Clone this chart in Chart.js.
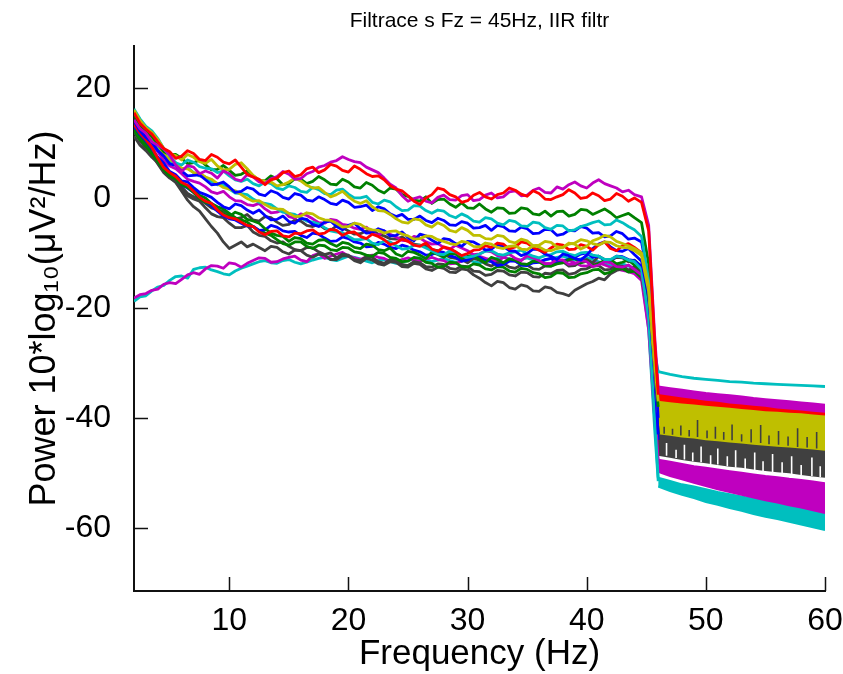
<!DOCTYPE html>
<html>
<head>
<meta charset="utf-8">
<script src="https://cdn.jsdelivr.net/npm/chart.js@4.4.1/dist/chart.umd.min.js"></script>
<style>
  html, body { margin: 0; padding: 0; background: #fff; }
  #wrap { width: 843px; height: 674px; }
</style>
</head>
<body>
<div id="wrap"><canvas id="c" width="843" height="674"></canvas></div>
<script>
// ---------- text ----------
const TITLE = "Filtrace s Fz = 45Hz, IIR filtr";
const X_TITLE = "Frequency (Hz)";
const Y_TITLE = "Power 10*log\u2081\u2080(\u03BCV\u00B2/Hz)";
const xTicks = [10, 20, 30, 40, 50, 60];
const yTicks = [-60, -40, -20, 0, 20];

// ---------- frequency grid (Hz) ----------
const freqPass = [2,2.5,3,3.5,4,4.5,5,5.5,6,6.5,
 7,7.5,8,8.5,9,9.5,10,10.5,11,11.5,
 12,12.5,13,13.5,14,14.5,15,15.5,16,16.5,
 17,17.5,18,18.5,19,19.5,20,20.5,21,21.5,
 22,22.5,23,23.5,24,24.5,25,25.5,26,26.5,
 27,27.5,28,28.5,29,29.5,30,30.5,31,31.5,
 32,32.5,33,33.5,34,34.5,35,35.5,36,36.5,
 37,37.5,38,38.5,39,39.5,40,40.5,41,41.5,
 42,42.5,43,43.5,
 44,44.6,45.2,45.7,46];
const freqStop = [46,47,48,49,50,51,52,53,54,55,56,57,58,59,60];

// ---------- channel spectra (dB) on freqPass ----------
const redHigh = [15.5,13.6, 12.5,11.6, 10.2,9.0, 8.4,7.2, 7.6,8.6,
 8.1,7.0, 6.8,7.9, 7.4,6.5, 6.2,6.9, 5.6,4.3,
 3.8,3.4, 2.4,3.3, 3.6,4.6, 4.9,3.9, 4.2,5.3,
 5.6,4.6, 5.1,6.1, 5.8,5.0, 4.7,5.8, 5.2,4.4,
 3.9,4.0, 3.3,2.2, 1.6,1.3, 0.4,-0.6, -1.2,0.0,
 0.6,1.8, 1.5,0.6, 0.2,-0.8, -0.5,0.5, 1.0,0.2,
 -0.2,0.6, 0.9,1.8, 1.4,0.7, 0.3,1.3, 0.8,-0.2,
 -0.3,0.2, 0.6,1.5, 0.9,-0.1, 0.1,0.9, 0.4,-0.5,
 -0.2,0.8, 0.3,-0.6,
 0.0, -0.8,-6,-26,-35.8];
const magentaHigh = [14.2,12.6, 11.8,10.2, 9.6,8.9, 7.8,6.0, 4.8,5.9,
 5.6,4.4, 4.9,4.5, 3.6,4.9, 4.4,3.4, 3.1,4.2,
 3.8,2.9, 2.6,3.5, 3.9,4.8, 4.3,3.4, 3.5,4.4,
 4.8,5.6, 5.9,6.5, 6.8,7.5, 7.0,6.6, 6.4,5.6,
 5.1,4.6, 3.6,2.5, 1.8,0.4, -0.6,-0.1, 0.2,-0.6,
 -0.9,0.1, 0.5,-0.3, -0.4,0.4, 0.6,-0.5, -0.3,0.5,
 0.9,0.0, 0.2,1.1, 1.3,0.4, 0.5,1.4, 1.8,1.0,
 0.9,2.0, 1.6,2.4, 2.9,2.2, 1.8,2.7, 3.3,2.6,
 2.2,1.8, 1.1,1.4,
 0.6, 0.2,-5,-25,-34.3];
const greenHigh = [15.0,13.2, 12.1,11.2, 9.8,8.4, 7.9,7.9, 7.2,6.2,
 6.4,6.9, 6.0,5.1, 5.2,5.9, 5.0,4.1, 4.3,4.9,
 4.0,3.2, 3.1,4.0, 3.5,2.4, 2.6,3.5, 3.4,2.6,
 3.0,3.9, 3.3,2.5, 2.4,3.4, 2.9,2.0, 1.8,2.8,
 2.3,1.4, 0.9,1.8, 1.6,0.6, 0.3,-0.4, -0.6,0.2,
 -1.0,-0.3, -0.2,-1.1, -1.7,-0.9, -1.8,-1.9, -1.1,-2.0,
 -2.6,-1.8, -1.9,-2.8, -2.7,-1.8, -2.0,-2.9, -3.1,-2.4,
 -3.3,-2.5, -2.4,-3.3, -3.0,-2.1, -2.2,-3.0, -2.5,-2.0,
 -2.7,-3.6, -3.2,-2.8,
 -3.6, -4.5,-12,-30,-38];
const yellowHigh = [16.0,14.1, 12.8,11.9, 10.6,9.0, 8.0,7.7, 6.9,7.9,
 7.4,6.6, 6.3,7.0, 5.8,5.1, 5.2,6.1, 6.4,5.3,
 4.1,3.3, 3.0,2.9, 2.2,2.4, 2.9,3.6, 3.1,2.3,
 1.8,1.9, 1.0,0.2, 0.6,1.2, 0.2,-0.6, -1.0,-0.5,
 -1.6,-2.3, -2.4,-3.0, -3.8,-4.4, -4.6,-3.8, -4.0,-4.9,
 -5.3,-4.5, -5.0,-5.9, -6.2,-5.4, -5.9,-6.8, -6.8,-7.4,
 -7.5,-6.8, -7.0,-7.9, -8.2,-7.5, -7.8,-8.7, -8.6,-7.9,
 -8.1,-8.9, -9.0,-8.2, -8.4,-9.3, -8.8,-7.8, -7.4,-6.8,
 -7.1,-7.9, -8.3,-8.7,
 -9.2, -10,-16,-30,-37];
const cyanHigh = [16.2,14.4, 13.0,12.2, 10.8,9.0, 7.6,6.4, 6.0,6.9,
 6.5,5.7, 5.4,5.3, 4.6,4.9, 4.0,3.3, 3.0,3.4,
 2.6,2.2, 2.9,2.6, 1.8,1.5, 2.2,1.9, 1.2,1.0,
 1.9,1.5, 0.8,0.6, 1.4,1.6, 0.7,0.0, 0.0,0.3,
 -0.8,-1.1, -0.4,-0.7, -1.6,-2.3, -2.2,-1.4, -1.5,-2.3,
 -2.8,-2.2, -2.4,-3.2, -3.6,-2.9, -3.4,-4.2, -4.4,-3.6,
 -3.8,-4.6, -4.9,-4.1, -4.3,-5.1, -5.2,-4.4, -4.6,-5.4,
 -5.7,-5.0, -5.1,-6.0, -5.8,-5.2, -4.9,-4.5, -4.2,-4.9,
 -4.8,-4.0, -4.5,-5.2,
 -5.8, -7,-15,-28,-31.6];
const blueHigh = [14.0,12.2, 11.0,10.1, 8.6,7.6, 6.2,5.9, 4.9,4.0,
 4.1,4.2, 3.3,2.4, 2.5,2.9, 2.0,1.0, 1.2,1.9,
 1.6,0.7, 0.4,1.3, 0.9,0.1, -0.2,0.8, 0.5,-0.4,
 -0.6,0.2, -0.3,-1.0, -1.2,-0.4, -0.8,-1.7, -1.6,-1.3,
 -2.3,-1.6, -2.0,-2.9, -3.4,-3.0, -3.9,-3.9, -3.3,-4.1,
 -4.5,-3.7, -4.1,-4.9, -5.0,-4.3, -4.6,-5.5, -5.4,-5.0,
 -5.9,-5.0, -5.2,-6.0, -6.1,-5.3, -5.6,-6.5, -6.4,-5.7,
 -5.8,-6.8, -6.6,-5.9, -6.0,-5.2, -5.5,-6.4, -6.3,-7.1,
 -6.9,-6.1, -6.5,-7.5,
 -7.3, -8,-15,-29,-40];
const blueMid = [13.2,11.6, 10.4,9.0, 7.4,6.3, 4.8,4.2, 3.1,2.9,
 1.9,1.0, 0.6,0.1, -0.8,-1.6, -2.0,-1.1, -1.4,-2.2,
 -2.8,-2.2, -3.2,-4.0, -3.9,-3.3, -4.3,-4.6, -3.7,-3.9,
 -4.8,-5.2, -4.4,-4.2, -5.2,-5.8, -5.0,-4.6, -5.6,-6.4,
 -6.3,-5.6, -6.0,-6.9, -6.8,-6.2, -7.2,-7.8, -6.6,-6.9,
 -7.7,-8.3, -7.4,-7.6, -8.3,-8.8, -7.9,-8.0, -8.6,-9.5,
 -9.3,-8.5, -8.8,-9.6, -9.7,-10.5, -10.1,-9.3, -9.4,-10.2,
 -10.6,-11.2, -10.2,-10.5, -11.0,-11.3, -10.4,-9.2, -8.4,-8.0,
 -8.9,-9.6, -9.7,-9.2,
 -10.3, -11.5,-18,-32,-43];
const redMid = [13.4,11.8, 10.6,9.2, 7.2,5.5, 4.6,3.9, 2.8,2.3,
 1.2,0.1, -0.6,-1.0, -2.2,-3.1, -3.6,-3.8, -4.4,-5.0,
 -5.2,-6.2, -6.7,-6.1, -6.0,-6.9, -7.1,-6.4, -6.5,-6.0,
 -5.8,-6.6, -6.4,-5.7, -5.9,-6.8, -6.3,-6.2, -7.0,-7.4,
 -6.6,-7.0, -7.6,-8.5, -8.2,-7.5, -7.9,-8.6, -8.8,-8.2,
 -9.3,-9.7, -8.9,-9.2, -9.8,-10.5, -10.1,-9.5, -9.4,-8.7,
 -9.0,-8.2, -8.4,-9.3, -8.9,-8.0, -8.2,-9.0, -9.5,-9.9,
 -9.1,-8.4, -8.6,-9.4, -9.3,-8.5, -8.8,-9.5, -8.5,-8.0,
 -9.2,-9.6, -8.7,-8.3,
 -9.0, -10,-16,-30,-36.6];
const greenMid = [12.4,11.0, 9.8,8.4, 6.8,5.2, 4.2,3.5, 2.4,1.9,
 1.0,-0.1, -0.8,-1.1, -2.0,-2.9, -3.4,-2.6, -3.0,-3.9,
 -4.2,-4.6, -5.6,-6.4, -6.8,-7.0, -7.9,-7.2, -7.4,-8.2,
 -8.4,-7.7, -7.6,-8.3, -8.8,-8.1, -8.3,-9.0, -9.2,-8.4,
 -8.6,-9.4, -9.6,-9.1, -10.2,-10.6, -9.7,-9.9, -10.4,-11.0,
 -9.9,-10.3, -10.8,-10.1, -10.2,-11.0, -10.6,-10.4, -11.2,-11.8,
 -10.8,-11.2, -11.8,-11.1, -11.3,-12.0, -12.1,-11.5, -11.6,-12.3,
 -12.4,-12.0, -11.8,-11.2, -11.0,-11.8, -11.5,-12.3, -11.9,-11.4,
 -11.2,-12.0, -11.7,-11.3,
 -12.2, -13,-19,-33,-43];
const grayHigh = [12.8,11.0, 9.6,8.2, 6.6,5.0, 4.0,3.3, 2.0,0.8,
 0.2,-0.2, -1.0,-1.8, -2.2,-2.4, -3.0,-3.8, -3.6,-3.0,
 -4.0,-4.2, -3.4,-3.6, -4.4,-5.0, -4.8,-4.0, -4.2,-5.0,
 -5.2,-4.8, -5.6,-5.9, -5.1,-5.4, -6.0,-6.6, -6.5,-6.0,
 -5.9,-6.6, -6.9,-7.4, -7.5,-7.1, -7.8,-8.4, -8.6,-8.8,
 -9.4,-9.6, -10.2,-10.8, -11.0,-11.2, -11.8,-11.0, -11.3,-12.0,
 -12.4,-11.8, -11.9,-12.6, -12.8,-12.2, -12.2,-12.9, -13.0,-12.4,
 -12.4,-11.8, -11.6,-12.4, -12.3,-11.5, -11.2,-11.8, -10.6,-11.2,
 -11.4,-10.8, -10.9,-11.6,
 -11.3, -12.5,-19,-33,-43];
const grayLow = [11.2,9.6, 8.6,7.4, 6.4,4.8, 3.8,2.8, 1.2,-0.4,
 -1.6,-2.4, -3.8,-5.2, -6.4,-8.0, -9.2,-8.6, -8.0,-8.9,
 -8.4,-9.0, -9.6,-8.8, -9.0,-9.8, -10.2,-9.5, -9.6,-10.4,
 -10.8,-10.2, -10.4,-11.2, -11.2,-10.5, -10.6,-11.4, -11.8,-11.0,
 -11.3,-12.0, -12.2,-11.6, -11.7,-12.5, -12.6,-11.9, -12.1,-12.9,
 -13.2,-12.6, -12.8,-13.5, -13.6,-12.9, -13.1,-14.0, -14.6,-15.4,
 -16.0,-15.2, -15.4,-16.3, -16.6,-15.8, -16.1,-16.9, -17.0,-16.2,
 -16.4,-17.2, -17.4,-17.8, -16.8,-16.2, -15.6,-15.2, -14.6,-14.9,
 -13.8,-13.2, -12.9,-13.4,
 -12.4, -13.5,-20,-34,-46];
const grayMid = [12.0,10.4, 9.0,7.8, 6.2,4.6, 3.6,2.9, 1.6,0.4,
 -0.2,-0.6, -1.8,-2.9, -3.4,-3.6, -4.6,-5.4, -5.4,-5.0,
 -6.2,-6.8, -7.0,-7.8, -8.2,-8.0, -8.8,-9.4, -9.6,-9.0,
 -9.1,-9.8, -10.3,-10.0, -10.9,-10.2, -10.4,-11.2, -11.4,-10.7,
 -10.8,-11.6, -11.9,-11.2, -11.4,-12.1, -12.3,-11.6, -11.8,-12.5,
 -12.6,-12.0, -12.1,-12.8, -13.0,-12.4, -12.5,-13.3, -13.4,-14.1,
 -13.9,-13.2, -13.3,-14.0, -14.2,-13.5, -13.6,-14.3, -14.4,-13.7,
 -13.8,-13.2, -13.1,-13.9, -13.7,-13.0, -12.9,-12.4, -12.3,-13.1,
 -13.0,-12.3, -12.4,-13.1,
 -12.8, -14,-21,-35,-44];
const magentaMid = [14.0,12.4, 11.2,9.6, 8.4,6.8, 5.8,5.3, 4.4,3.4,
 3.0,2.7, 2.0,1.1, 0.8,1.2, 0.2,-0.5, -0.6,-1.2,
 -1.4,-1.0, -2.0,-2.7, -2.6,-2.2, -3.4,-3.7, -2.9,-3.2,
 -3.8,-4.5, -4.6,-3.9, -4.1,-4.8, -5.0,-5.5, -5.7,-5.3,
 -6.4,-6.8, -6.0,-6.6, -7.1,-7.7, -7.8,-7.0, -7.3,-8.0,
 -8.4,-8.3, -9.0,-9.4, -8.6,-9.1, -9.6,-10.3, -10.2,-9.6,
 -9.8,-10.5, -10.6,-10.2, -11.0,-11.4, -10.5,-10.9, -11.4,-12.0,
 -11.9,-11.2, -11.3,-12.1, -12.0,-11.4, -11.6,-12.5, -12.2,-11.6,
 -11.8,-12.5, -12.6,-12.2,
 -13.0, -14,-22,-38,-47.6];
const greenLow = [12.2,10.6, 9.4,8.0, 6.6,5.1, 4.0,3.5, 2.6,2.2,
 1.4,0.5, 0.0,-1.0, -1.6,-2.0, -2.8,-3.6, -4.0,-4.4,
 -5.2,-5.9, -6.4,-6.8, -7.6,-8.3, -8.6,-8.0, -8.0,-8.8,
 -9.2,-8.6, -8.7,-9.4, -9.6,-9.0, -9.1,-9.8, -10.0,-10.4,
 -10.6,-9.9, -10.1,-10.8, -11.0,-11.6, -11.5,-10.8, -11.0,-11.7,
 -11.9,-12.6, -12.4,-11.7, -11.8,-12.5, -12.6,-12.0, -12.2,-12.9,
 -13.1,-12.5, -12.6,-13.3, -13.5,-12.8, -13.0,-13.6, -13.8,-14.5,
 -14.3,-13.6, -13.7,-14.5, -14.4,-13.8, -13.6,-13.1, -13.0,-13.8,
 -13.5,-12.8, -12.8,-13.5,
 -13.3, -14.5,-21,-35,-44];
const cyanMid = [15.2,13.8, 12.0,10.6, 9.2,7.8, 6.6,6.1, 5.2,5.5,
 4.6,4.0, 3.8,3.0, 2.4,2.5, 1.6,0.9, 0.8,0.6,
 -0.2,-0.8, -1.0,-1.2, -2.0,-2.6, -2.8,-3.0, -3.6,-4.2,
 -4.4,-4.7, -5.4,-6.0, -6.2,-6.3, -7.0,-7.6, -7.6,-7.4,
 -8.2,-8.5, -7.8,-8.0, -8.7,-9.3, -9.2,-8.6, -8.6,-9.1,
 -9.6,-10.2, -10.3,-9.7, -9.8,-10.5, -10.8,-10.6, -10.2,-9.7,
 -9.6,-10.2, -10.4,-10.0, -9.8,-9.5, -10.1,-10.6, -10.9,-10.5,
 -10.3,-9.8, -9.7,-10.2, -10.5,-10.0, -9.9,-10.4, -10.6,-11.2,
 -11.2,-10.6, -10.8,-11.3,
 -11.6, -13,-22,-40,-50.9];
const yellowMid = [15.4,13.9, 12.4,11.0, 9.6,8.1, 7.0,6.4, 5.4,5.3,
 4.6,4.5, 3.8,3.4, 2.6,1.9, 1.6,1.3, 0.6,-0.1,
 -0.6,-0.5, -1.2,-1.8, -2.0,-2.1, -2.8,-3.4, -3.3,-2.7,
 -2.9,-3.6, -4.0,-4.1, -4.6,-5.3, -5.2,-4.6, -4.8,-5.5,
 -5.8,-5.9, -6.4,-6.1, -6.0,-6.6, -6.9,-7.5, -7.4,-6.9,
 -7.0,-7.6, -7.9,-8.3, -8.5,-7.9, -8.1,-8.8, -8.9,-8.2,
 -8.4,-9.0, -9.2,-8.8, -8.7,-9.3, -9.4,-8.7, -8.9,-9.5,
 -9.6,-9.2, -9.0,-8.4, -8.2,-7.6, -7.8,-8.3, -8.6,-8.0,
 -8.1,-8.7, -9.0,-9.1,
 -9.6, -10.5,-17,-31,-39];
const blueLow = [13.0,11.3, 10.0,8.6, 7.0,5.5, 4.4,3.6, 2.4,1.8,
 1.0,0.0, -0.8,-1.4, -2.4,-3.3, -3.8,-4.0, -4.6,-5.1,
 -5.2,-5.9, -5.8,-5.0, -5.3,-6.0, -6.2,-6.1, -6.8,-7.2,
 -6.4,-6.6, -7.3,-7.9, -7.8,-7.1, -7.4,-8.0, -8.2,-8.9,
 -8.8,-8.1, -8.4,-9.0, -9.2,-8.6, -8.9,-9.5, -9.8,-10.4,
 -10.3,-9.7, -9.9,-10.5, -10.8,-11.5, -11.3,-10.6, -10.8,-11.4,
 -11.6,-12.3, -12.1,-11.5, -11.5,-12.2, -12.3,-11.8, -11.7,-11.2,
 -11.0,-11.8, -11.6,-11.1, -10.8,-10.2, -10.0,-10.8, -10.6,-11.4,
 -11.3,-10.6, -10.7,-11.2,
 -11.4, -12.5,-19,-33,-44];
const magentaLow = [-18.2,-17.6, -17.4,-16.8, -16.6,-15.7, -15.4,-15.6, -14.8,-14.0,
 -13.6,-13.9, -12.9,-12.3, -12.4,-12.8, -11.8,-12.0, -12.6,-11.9,
 -11.4,-10.9, -11.0,-11.7, -11.6,-11.1, -10.8,-10.6, -11.3,-11.6,
 -10.5,-10.1, -11.0,-10.6, -10.2,-9.9, -10.6,-10.9, -11.2,-10.7,
 -10.4,-10.8, -11.0,-11.5, -11.6,-11.2, -10.9,-11.3, -11.5,-11.1,
 -10.8,-11.2, -11.4,-12.0, -11.9,-11.5, -11.2,-10.8, -10.6,-11.0,
 -11.3,-11.6, -10.8,-11.2, -11.5,-12.0, -12.1,-11.6, -11.4,-11.9,
 -12.0,-11.5, -11.3,-11.4, -11.8,-12.3, -12.4,-12.0, -11.8,-12.2,
 -12.6,-12.9, -13.2,-13.4,
 -13.8, -15,-24,-40,-48.5];
const cyanLow = [-18.8,-18.0, -17.8,-16.9, -16.2,-15.9, -15.0,-14.3, -14.2,-14.6,
 -13.0,-12.7, -12.6,-13.1, -13.4,-13.8, -14.0,-13.3, -12.8,-12.4,
 -12.0,-11.6, -11.4,-11.8, -11.9,-11.4, -11.2,-11.7, -12.0,-11.7,
 -11.3,-11.0, -10.8,-11.2, -11.4,-11.0, -10.6,-10.8, -11.1,-11.5,
 -11.8,-11.4, -11.2,-11.6, -11.9,-11.7, -11.4,-11.0, -10.9,-11.2,
 -11.6,-11.3, -11.0,-11.4, -11.7,-11.5, -11.2,-11.6, -11.8,-11.5,
 -11.3,-11.0, -10.7,-11.1, -11.4,-11.2, -10.9,-11.3, -11.6,-11.3,
 -11.0,-10.8, -10.6,-11.0, -11.3,-11.1, -10.8,-11.2, -11.6,-12.0,
 -12.3,-12.1, -12.0,-12.4,
 -12.9, -14,-24,-42,-51.5];

// ---------- stop band (46..60 Hz): one clean line and the envelope bands ----------
const cyanTopStop = [-31.6,-32.1,-32.5,-32.8,-33.0,-33.2,-33.4,-33.5,-33.7,-33.8,-33.9,-34.0,-34.1,-34.2,-34.3];
const magentaBandTop = [-34.3,-34.6,-34.9,-35.2,-35.5,-35.7,-35.9,-36.1,-36.4,-36.6,-36.8,-37.0,-37.2,-37.4,-37.6];
const magentaBandBottom = [-35.5,-35.8,-36.1,-36.4,-36.7,-36.9,-37.2,-37.4,-37.6,-37.8,-38.1,-38.3,-38.5,-38.7,-38.9];
const redBandTop = [-35.5,-35.8,-36.1,-36.3,-36.6,-36.8,-37.0,-37.2,-37.5,-37.6,-37.8,-38.0,-38.2,-38.4,-38.6];
const redBandBottom = [-36.7,-37.0,-37.2,-37.4,-37.6,-37.8,-38.0,-38.2,-38.4,-38.6,-38.7,-38.9,-39.0,-39.2,-39.4];
const yellowBandTop = [-36.5,-36.8,-37.0,-37.2,-37.4,-37.6,-37.8,-38.0,-38.2,-38.4,-38.5,-38.7,-38.8,-39.0,-39.2];
const yellowBandBottom = [-42.8,-43.1,-43.4,-43.6,-43.9,-44.1,-44.3,-44.5,-44.7,-44.9,-45.1,-45.2,-45.4,-45.6,-45.8];
const grayBandTop = [-42.6,-42.9,-43.2,-43.4,-43.7,-43.9,-44.1,-44.3,-44.5,-44.7,-44.9,-45.0,-45.2,-45.4,-45.6];
const grayBandBottom = [-46.7,-47.1,-47.5,-47.8,-48.1,-48.4,-48.7,-48.9,-49.2,-49.5,-49.7,-49.9,-50.2,-50.5,-50.7];
const magentaLowTop = [-47.6,-48.0,-48.4,-48.8,-49.1,-49.4,-49.7,-50.0,-50.3,-50.6,-50.8,-51.1,-51.3,-51.6,-51.9];
const magentaLowBottom = [-49.8,-50.6,-51.2,-51.8,-52.4,-53.0,-53.5,-54.0,-54.5,-55.0,-55.4,-55.9,-56.3,-56.8,-57.3];
const cyanLowTop = [-50.9,-51.5,-52.1,-52.5,-53.0,-53.5,-53.9,-54.3,-54.7,-55.1,-55.5,-55.8,-56.2,-56.6,-57.0];
const cyanLowBottom = [-52.5,-53.3,-54.0,-54.6,-55.3,-55.8,-56.4,-56.9,-57.5,-58.0,-58.4,-58.9,-59.4,-59.9,-60.4];

// comb spikes inside the stop-band envelopes
const yellowCombFreq = [46.5,47.2,47.9,48.6,49.3,50.1,50.8,51.5,52.2,53.0,53.8,54.6,55.3,56.1,56.9,57.7,58.5,59.3];
const yellowCombLow  = [-42.9,-43.1,-43.2,-43.4,-43.5,-43.7,-43.8,-44.0,-44.1,-44.3,-44.5,-44.6,-44.8,-44.9,-45.1,-45.3,-45.4,-45.6];
const yellowCombHigh = [-41.6,-42.0,-41.4,-42.2,-40.4,-42.3,-41.6,-42.6,-41.2,-43.0,-42.1,-41.3,-43.2,-42.4,-43.4,-41.9,-43.5,-42.6];
const grayCombFreq = [46.7,47.5,48.2,48.9,49.6,50.4,51.0,51.8,52.5,53.3,54.1,54.8,55.6,56.4,57.2,58.0,58.9,59.6];
const grayCombLow  = [-46.9,-47.3,-47.6,-47.9,-48.1,-48.4,-48.5,-48.8,-49.1,-49.3,-49.6,-49.8,-50.0,-50.2,-50.4,-50.5,-50.6,-50.8];
const grayCombHigh = [-44.6,-45.8,-44.9,-46.3,-45.2,-46.8,-45.6,-47.0,-45.9,-47.4,-46.3,-47.9,-46.6,-48.1,-47.0,-48.6,-47.2,-48.8];

// ---------- colours (MATLAB line cycle) ----------
const C = { blue:'#0000FF', green:'#008000', red:'#FF0000', cyan:'#00BFBF', magenta:'#BF00BF', yellow:'#BFBF00', gray:'#404040' };

const pts = (xs, ys) => ys.map((y, i) => ({ x: xs[i], y }));
const spikes = (xs, lo, hi) => { const out = []; xs.forEach((x, i) => { out.push({ x, y: lo[i] }, { x, y: hi[i] }, { x, y: null }); }); return out; };

const LW = 2.8;
const lineDs = (ys, color) => ({ data: pts(freqPass, ys), borderColor: color, backgroundColor: color, borderWidth: LW, pointRadius: 0, fill: false, tension: 0, borderJoinStyle: 'round' });
const stopLine = (ys, color) => ({ data: pts(freqStop, ys), borderColor: color, borderWidth: LW, pointRadius: 0, fill: false, tension: 0 });
const bandPair = (top, bottom, color) => ([
  { data: pts(freqStop, top), borderColor: color, borderWidth: 2, pointRadius: 0, fill: false, tension: 0 },
  { data: pts(freqStop, bottom), borderColor: color, borderWidth: 2, pointRadius: 0, fill: '-1', backgroundColor: color, tension: 0 }
]);
const combDs = (xs, lo, hi, color) => ({ data: spikes(xs, lo, hi), borderColor: color, borderWidth: 1.6, pointRadius: 0, fill: false, spanGaps: false, tension: 0 });

// Chart.js draws dataset 0 on top
const channels = [
  [redHigh, C.red], [magentaHigh, C.magenta], [yellowHigh, C.yellow], [cyanHigh, C.cyan],
  [greenHigh, C.green], [blueHigh, C.blue], [yellowMid, C.yellow], [redMid, C.red],
  [blueMid, C.blue], [cyanMid, C.cyan], [magentaMid, C.magenta], [greenMid, C.green],
  [blueLow, C.blue], [greenLow, C.green], [grayHigh, C.gray], [grayMid, C.gray],
  [grayLow, C.gray], [magentaLow, C.magenta], [cyanLow, C.cyan]
];

const datasets = [];
datasets.push(combDs(yellowCombFreq, yellowCombLow, yellowCombHigh, C.gray));
datasets.push(combDs(grayCombFreq, grayCombLow, grayCombHigh, '#FFFFFF'));
datasets.push(stopLine(cyanTopStop, C.cyan));
channels.forEach(([ys, col]) => datasets.push(lineDs(ys, col)));
datasets.push(...bandPair(magentaBandTop, magentaBandBottom, C.magenta));
datasets.push(...bandPair(redBandTop, redBandBottom, C.red));
datasets.push(...bandPair(yellowBandTop, yellowBandBottom, C.yellow));
datasets.push(...bandPair(grayBandTop, grayBandBottom, C.gray));
datasets.push(...bandPair(magentaLowTop, magentaLowBottom, C.magenta));
datasets.push(...bandPair(cyanLowTop, cyanLowBottom, C.cyan));

const FONT = "'Liberation Sans', Arial, Helvetica, sans-serif";

const inwardTicks = {
  id: 'inwardTicks',
  afterDatasetsDraw(chart) {
    const { ctx, chartArea: a, scales: { x, y } } = chart;
    ctx.save();
    ctx.strokeStyle = '#111';
    ctx.lineWidth = 1.5;
    ctx.beginPath();
    xTicks.forEach(v => { const px = Math.round(x.getPixelForValue(v)) + 0.5; ctx.moveTo(px, a.bottom); ctx.lineTo(px, a.bottom - 14); });
    yTicks.forEach(v => { const py = Math.round(y.getPixelForValue(v)) + 0.5; ctx.moveTo(a.left, py); ctx.lineTo(a.left + 14, py); });
    ctx.stroke();
    ctx.restore();
  }
};

new Chart(document.getElementById('c'), {
  type: 'line',
  data: { datasets },
  options: {
    responsive: false,
    animation: false,
    events: [],
    spanGaps: false,
    layout: { padding: { left: 0, right: 18, top: 0, bottom: 0 } },
    plugins: {
      legend: { display: false },
      tooltip: { enabled: false },
      title: {
        display: true, text: TITLE, fullSize: false, color: '#000',
        font: { family: FONT, size: 21, weight: 'normal', lineHeight: 1.2 },
        padding: { top: 9, bottom: 12 }
      },
      filler: { propagate: false }
    },
    scales: {
      x: {
        type: 'linear', min: 2, max: 60,
        afterBuildTicks: s => { s.ticks = xTicks.map(v => ({ value: v })); },
        afterFit: s => { s.height = 83; s.paddingLeft = 0; s.paddingRight = 18; },
        grid: { display: false },
        border: { display: true, color: '#111', width: 2 },
        ticks: { color: '#000', padding: 3, font: { family: FONT, size: 32 }, maxRotation: 0, autoSkip: false },
        title: { display: true, text: X_TITLE, color: '#000', font: { family: FONT, size: 35, lineHeight: 1.1 }, padding: { top: 0, bottom: 0 } }
      },
      y: {
        type: 'linear', min: -71.5, max: 27.6,
        afterBuildTicks: s => { s.ticks = yTicks.map(v => ({ value: v })); },
        afterFit: s => { s.width = 134; s.paddingTop = 0; s.paddingBottom = 0; },
        grid: { display: false },
        border: { display: true, color: '#111', width: 2 },
        ticks: { color: '#000', padding: 15, font: { family: FONT, size: 32 } },
        title: { display: true, text: Y_TITLE, color: '#000', font: { family: FONT, size: 36, lineHeight: 1.2 }, padding: { top: 23, bottom: 0 } }
      }
    }
  },
  plugins: [inwardTicks]
});
</script>
</body>
</html>
